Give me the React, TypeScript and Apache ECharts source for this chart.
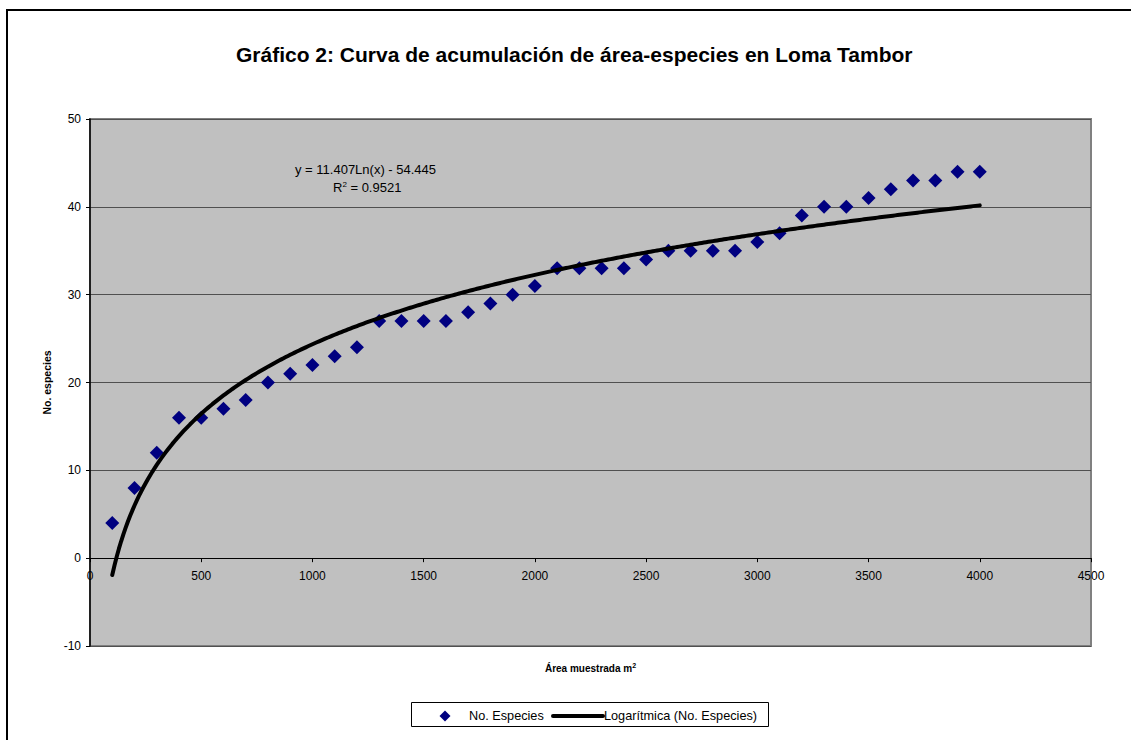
import React, { useEffect, useRef } from "react";
import * as echarts from "echarts";

// Data
const areas = [
  100, 200, 300, 400, 500, 600, 700, 800, 900, 1000,
  1100, 1200, 1300, 1400, 1500, 1600, 1700, 1800, 1900, 2000,
  2100, 2200, 2300, 2400, 2500, 2600, 2700, 2800, 2900, 3000,
  3100, 3200, 3300, 3400, 3500, 3600, 3700, 3800, 3900, 4000,
];
const species = [
  4, 8, 12, 16, 16, 17, 18, 20, 21, 22,
  23, 24, 27, 27, 27, 27, 28, 29, 30, 31,
  33, 33, 33, 33, 34, 35, 35, 35, 35, 36,
  37, 39, 40, 40, 41, 42, 43, 43, 44, 44,
];
// Logarithmic trendline coefficients, as printed on the chart
const trendSlope = 11.407;
const trendIntercept = -54.445;
const trendR2 = "0.9521";

const xTicks = { min: 0, max: 4500, interval: 500 };
const yTicks = { min: -10, max: 50, interval: 10 };

const titleText = "Gráfico 2: Curva de acumulación de área-especies en Loma Tambor";
const seriesName = "No. Especies";
const trendName = "Logarítmica (No. Especies)";

const FONT = "Arial, 'Liberation Sans', sans-serif";

export default function App() {
  const ref = useRef<HTMLDivElement>(null);

  useEffect(() => {
    if (!ref.current) return;
    const chart = echarts.init(ref.current, null, { renderer: "svg" });

    const scatterData = areas.map((a, i) => [a, species[i]]);
    const trendData: number[][] = [];
    const first = areas[0];
    const last = areas[areas.length - 1];
    for (let x = first; x <= last; x += 10) {
      trendData.push([x, trendSlope * Math.log(x) + trendIntercept]);
    }

    chart.setOption({
      animation: false,
      backgroundColor: "#ffffff",
      textStyle: { fontFamily: FONT },
      title: {
        text: titleText,
        left: 236,
        top: 44,
        padding: 0,
        textStyle: { fontFamily: FONT, fontSize: 21, fontWeight: "bold", color: "#000" },
      },
      grid: {
        left: 90,
        top: 119,
        width: 1001,
        height: 527,
        outerBoundsMode: "none",
        containLabel: false,
        show: true,
        backgroundColor: "#C0C0C0",
        borderColor: "#808080",
        borderWidth: 2,
      },
      xAxis: {
        type: "value",
        min: xTicks.min,
        max: xTicks.max,
        interval: xTicks.interval,
        name: "{a|Área muestrada m}{s|2}",
        nameLocation: "middle",
        nameGap: 16,
        nameMoveOverlap: false,
        nameTextStyle: {
          rich: {
            a: { fontFamily: FONT, fontSize: 10, fontWeight: "bold", color: "#000" },
            s: { fontFamily: FONT, fontSize: 7, fontWeight: "bold", color: "#000", verticalAlign: "top", padding: [0, 0, 6, 0] },
          },
        },
        axisLine: { onZero: true, lineStyle: { color: "#000", width: 1 } },
        axisTick: { show: true, inside: false, length: 4, lineStyle: { color: "#000" } },
        axisLabel: {
          fontFamily: FONT,
          fontSize: 12,
          color: "#000",
          margin: -76,
          formatter: (v: number) => String(v),
        },
        splitLine: { show: false },
      },
      yAxis: {
        type: "value",
        min: yTicks.min,
        max: yTicks.max,
        interval: yTicks.interval,
        name: "No. especies",
        nameLocation: "middle",
        nameGap: 37,
        nameRotate: 90,
        nameTextStyle: { fontFamily: FONT, fontSize: 10.5, fontWeight: "bold", color: "#000" },
        axisLine: { show: true, lineStyle: { color: "#000", width: 1.5 } },
        axisTick: { show: true, inside: false, length: 4, lineStyle: { color: "#000" } },
        axisLabel: {
          fontFamily: FONT,
          fontSize: 12,
          color: "#000",
          margin: 9,
          formatter: (v: number) => String(v),
        },
        splitLine: { show: true, lineStyle: { color: "#505050", width: 1 } },
      },
      series: [
        {
          name: seriesName,
          type: "scatter",
          symbol: "diamond",
          symbolSize: 14,
          itemStyle: { color: "#000080", opacity: 1 },
          data: scatterData,
          z: 3,
        },
        {
          name: trendName,
          type: "line",
          showSymbol: false,
          symbol: "none",
          smooth: false,
          lineStyle: { color: "#000", width: 4, cap: "round" },
          data: trendData,
          z: 4,
        },
      ],
      graphic: [
        {
          type: "rect",
          z: 0,
          shape: { x: 7, y: 10, width: 1300, height: 900 },
          style: { fill: "none", stroke: "#000", lineWidth: 2 },
          silent: true,
        },
        {
          type: "text",
          left: 295,
          top: 163,
          z: 10,
          style: {
            text: "y = 11.407Ln(x) - 54.445",
            font: `13px ${FONT}`,
            fill: "#000",
          },
        },
        {
          type: "text",
          left: 333,
          top: 180,
          z: 10,
          style: {
            text: "{a|R}{s|2}{a| = " + trendR2 + "}",
            fill: "#000",
            rich: {
              a: { fontFamily: FONT, fontSize: 13, fill: "#000" },
              s: { fontFamily: FONT, fontSize: 8, fill: "#000", verticalAlign: "top", padding: [0, 0, 6, 0] },
            },
          },
        },
        // Legend
        {
          type: "rect",
          z: 10,
          shape: { x: 411.5, y: 702.5, width: 357, height: 24 },
          style: { fill: "#fff", stroke: "#000", lineWidth: 1 },
        },
        {
          type: "polygon",
          z: 11,
          shape: { points: [[445, 710.5], [450.5, 716], [445, 721.5], [439.5, 716]] },
          style: { fill: "#000080" },
        },
        {
          type: "text",
          z: 11,
          left: 469,
          top: 709,
          style: { text: seriesName, font: `12.7px ${FONT}`, fill: "#000" },
        },
        {
          type: "line",
          z: 11,
          shape: { x1: 553, y1: 716, x2: 603, y2: 716 },
          style: { stroke: "#000", lineWidth: 4, lineCap: "round" },
        },
        {
          type: "text",
          z: 11,
          left: 604,
          top: 709,
          style: { text: trendName, font: `12.7px ${FONT}`, fill: "#000" },
        },
      ],
    });

    return () => chart.dispose();
  }, []);

  return (
    <div
      ref={ref}
      style={{ position: "fixed", left: 0, top: 0, width: 1131, height: 740, background: "#fff" }}
    />
  );
}
